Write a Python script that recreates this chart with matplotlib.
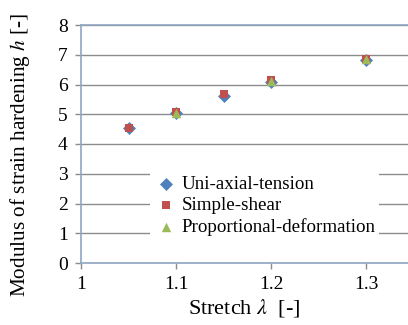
import matplotlib
matplotlib.use("Agg")
from matplotlib import pyplot as plt

plt.rcParams['font.family'] = ['Liberation Serif', 'DejaVu Serif']
plt.rcParams['mathtext.fontset'] = 'stix'

# values
uni_x = [1.05, 1.10, 1.15, 1.20, 1.30]
uni_y = [4.53, 5.03, 5.60, 6.07, 6.83]
shear_x = [1.05, 1.10, 1.15, 1.20, 1.30]
shear_y = [4.55, 5.07, 5.67, 6.16, 6.87]
prop_x = [1.10, 1.20, 1.30]
prop_y = [5.05, 6.12, 6.85]
x_ticks = [1, 1.1, 1.2, 1.3]
x_labels = ['1', '1.1', '1.2', '1.3']
y_ticks = [0, 1, 2, 3, 4, 5, 6, 7, 8]

spine_col = '#8fa6c2'
grid_col = '#8c8c8c'

fig = plt.figure(figsize=(4.08, 3.25), dpi=100)
ax = fig.add_axes([81/408, 1 - 263/325, 1 - 81/408, 238/325])

ax.scatter(uni_x, uni_y, marker='D', s=44, color='#4f81bd', zorder=3,
           label='Uni-axial-tension', linewidths=0)
ax.scatter(shear_x, shear_y, marker='s', s=34, color='#c0504d', zorder=4,
           label='Simple-shear', linewidths=0)
ax.scatter(prop_x, prop_y, marker='^', s=46, color='#9bbb59', zorder=5,
           label='Proportional-deformation', linewidths=0)

ax.set_xlim(1, 1.344)
ax.set_ylim(0, 8)
ax.set_xticks(x_ticks)
ax.set_xticklabels(x_labels)
ax.set_yticks(y_ticks)
ax.yaxis.grid(True, color=grid_col, linewidth=1)
ax.set_axisbelow(True)

for side in ['left', 'bottom', 'top']:
    ax.spines[side].set_color(spine_col)
    ax.spines[side].set_linewidth(1.2)
ax.spines['right'].set_visible(False)
ax.tick_params(axis='both', length=4.5, width=1, color=grid_col,
               labelsize=14, pad=5)

ax.set_xlabel(r'Stretch $\lambda$  [-]', fontsize=16, labelpad=3)
ax.set_ylabel(r'Modulus of strain hardening $h$ [-]', fontsize=15.3)
ax.yaxis.set_label_coords(-0.15, 0.455)

leg = ax.legend(loc='lower left', bbox_to_anchor=(0.211, 0.097), frameon=True,
                fontsize=13.7, handletextpad=0.15, borderpad=0.2,
                labelspacing=0.22, handlelength=1.3, borderaxespad=0)
leg.get_frame().set_edgecolor('none')
leg.get_frame().set_facecolor('white')
leg.get_frame().set_alpha(1)

fig.savefig('out.png', dpi=100)
